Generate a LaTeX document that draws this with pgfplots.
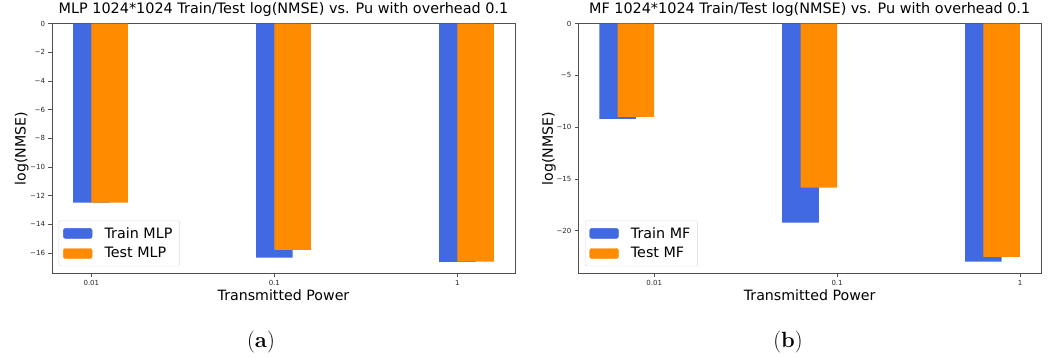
\documentclass[border=0pt]{standalone}
\usepackage{fontspec}
\usepackage{pgfplots}
\pgfplotsset{compat=1.18}
\newfontfamily\dv{DejaVu Sans}
\definecolor{royalblue}{HTML}{4169E1}
\definecolor{darkorange}{HTML}{FF8C00}
\definecolor{spine}{HTML}{505050}

\pgfplotsset{
  panel/.style={
    scale only axis, width=463pt, height=249.5pt,
    axis line style={spine, line width=0.8pt},
    tick style={spine, line width=0.6pt},
    tick align=outside, major tick length=3.5pt,
    tick pos=left,
    xtick={0,1,2}, xticklabels={0.01,0.1,1},
    ticklabel style={font=\dv\fontsize{7}{8}\selectfont, text=black!85},
    ymax=0,
    title style={font=\dv\fontsize{14.4}{16}\selectfont, anchor=base},
    label style={font=\dv\fontsize{14.2}{16}\selectfont},
    xlabel style={at={(axis description cs:0.5,-0.087)}, anchor=center},
    legend cell align=left,
    legend style={at={(axis description cs:0,0)}, anchor=south west, xshift=6.7pt, yshift=7pt,
      draw=black!15, rounded corners=2pt, inner xsep=4.3pt, inner ysep=4.5pt,
      font=\dv\fontsize{14.3}{16}\selectfont,
      nodes={inner xsep=3pt, inner ysep=2pt}, column sep=9.3pt, row sep=4pt},
  }
}

\begin{document}
\begin{tikzpicture}
\useasboundingbox (0,0) rectangle (1048pt,358pt);

\begin{axis}[panel, at={(52pt,84.8pt)}, anchor=south west,
  xmin=-0.215, xmax=2.315, ymin=-17.42,
  ytick={0,-2,-4,-6,-8,-10,-12,-14,-16},
  yticklabels={0,−2,−4,−6,−8,−10,−12,−14,−16},
  title={MLP 1024*1024 Train/Test log(NMSE) vs. Pu with overhead 0.1},
  title style={at={(axis description cs:0.5,1.0176)}},
  xlabel={Transmitted Power}, ylabel={log(NMSE)},
  ylabel style={at={(axis description cs:-0.0654,0.5)}, anchor=center}]
\addplot[ybar, bar width=0.2, bar shift=0pt, fill=royalblue, draw=none, forget plot]
  coordinates {(0,-12.5) (1,-16.33) (2,-16.63)};
\addplot[ybar, bar width=0.2, bar shift=0pt, fill=darkorange, draw=none, forget plot]
  coordinates {(0.1,-12.5) (1.1,-15.79) (2.1,-16.62)};
\addlegendimage{legend image code/.code={\fill[royalblue] (0pt,-5pt) rectangle (28.7pt,5pt);}}
\addlegendentry{Train MLP}
\addlegendimage{legend image code/.code={\fill[darkorange] (0pt,-5pt) rectangle (28.7pt,5pt);}}
\addlegendentry{Test MLP}
\end{axis}

\begin{axis}[panel, at={(578.3pt,84.8pt)}, anchor=south west, width=462.7pt,
  xmin=-0.415, xmax=2.115, ymin=-24.12,
  ytick={0,-5,-10,-15,-20},
  yticklabels={0,−5,−10,−15,−20},
  title={MF 1024*1024 Train/Test log(NMSE) vs. Pu with overhead 0.1},
  title style={at={(axis description cs:0.5,1.0176)}},
  xlabel={Transmitted Power}, ylabel={log(NMSE)},
  ylabel style={at={(axis description cs:-0.0633,0.5)}, anchor=center}]
\addplot[ybar, bar width=0.2, bar shift=0pt, fill=royalblue, draw=none, forget plot]
  coordinates {(-0.2,-9.21) (0.8,-19.22) (1.8,-23.0)};
\addplot[ybar, bar width=0.2, bar shift=0pt, fill=darkorange, draw=none, forget plot]
  coordinates {(-0.1,-9.01) (0.9,-15.84) (1.9,-22.54)};
\addlegendimage{legend image code/.code={\fill[royalblue] (0pt,-5pt) rectangle (28.7pt,5pt);}}
\addlegendentry{Train MF}
\addlegendimage{legend image code/.code={\fill[darkorange] (0pt,-5pt) rectangle (28.7pt,5pt);}}
\addlegendentry{Test MF}
\end{axis}

\node[font=\fontsize{22}{24}\selectfont, anchor=base] at (261pt,10.7pt) {(\textbf{a})};
\node[font=\fontsize{22}{24}\selectfont, anchor=base] at (788pt,10.7pt) {(\textbf{b})};
\end{tikzpicture}
\end{document}
